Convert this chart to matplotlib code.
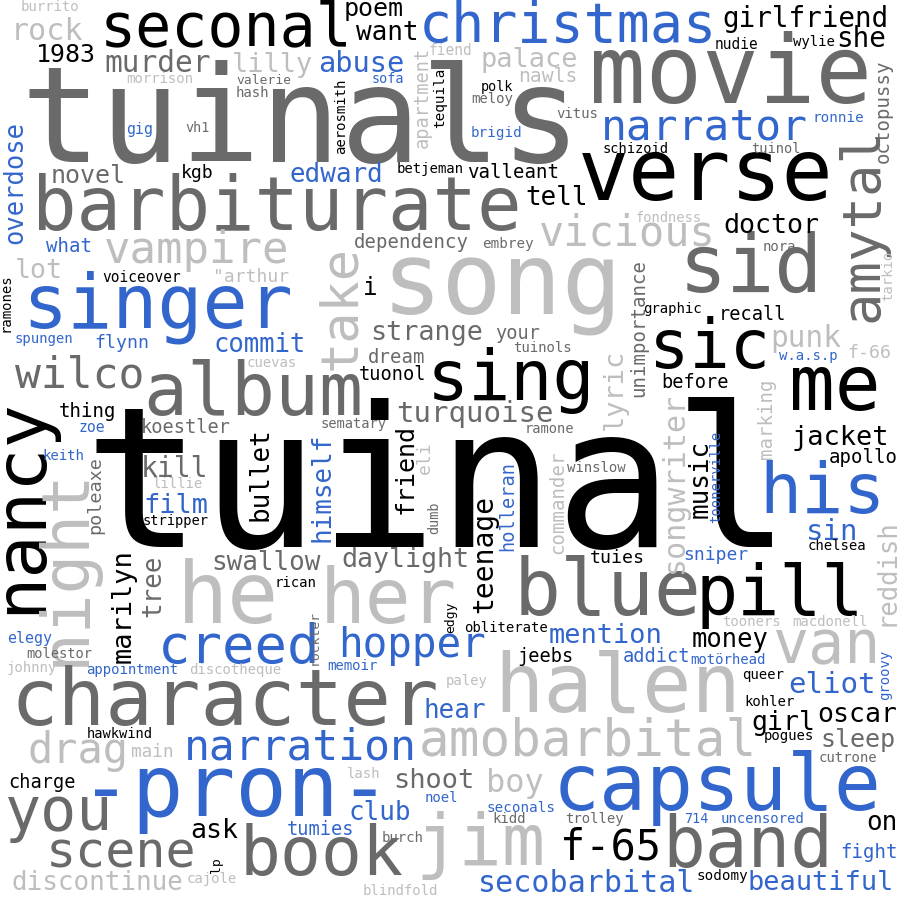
import matplotlib
matplotlib.use("Agg")
import matplotlib.pyplot as plt

# ---- data: words and their weights (rendered font size in px) ----
WORDS = [
    "tuinal", "tuinals", "barbiturate", "song", "singer", "movie", "verse", "seconal", "christmas", "sid",
    "amytal", "album", "sing", "sic", "me", "his", "nancy", "night", "he", "her",
    "blue", "pill", "van", "halen", "character", "creed", "hopper", "narration", "amobarbital", "-pron-",
    "capsule", "you", "scene", "book", "jim", "band", "f-65", "drag", "vicious", "vampire",
    "wilco", "narrator", "take", "secobarbital", "beautiful", "discontinue", "burrito", "rock", "1983", "murder",
    "lilly", "morrison", "valerie", "hash", "vh1", "gig", "overdose", "novel", "kgb", "what",
    "lot", '"arthur', "voiceover", "ramones", "poem", "want", "abuse", "fiend", "apartment", "palace",
    "nawls", "sofa", "aerosmith", "tequila", "polk", "meloy", "vitus", "brigid", "edward", "betjeman",
    "valleant", "tell", "dependency", "embrey", "i", "girlfriend", "nudie", "wylie", "she", "ronnie",
    "octopussy", "schizoid", "tuinol", "fondness", "doctor", "nora", "tarkio", "unimportance", "spungen", "flynn",
    "commit", "cuevas", "thing", "zoe", "koestler", "keith", "kill", "lillie", "film", "stripper",
    "poleaxe", "bullet", "marilyn", "tree", "swallow", "rican", "strange", "your", "tuinols", "dream",
    "tuonol", "turquoise", "sematary", "ramone", "himself", "friend", "eli", "dumb", "teenage", "holleran",
    "commander", "winslow", "daylight", "tuies", "graphic", "recall", "punk", "f-66", "w.a.s.p", "lyric",
    "before", "songwriter", "marking", "jacket", "music", "toonerville", "apollo", "sin", "chelsea", "reddish",
    "sniper", "elegy", "molestor", "johnny", "appointment", "discotheque", "hawkwind", "main", "charge", "ask",
    "cajole", "lp", "tumies", "rockter", "edgy", "obliterate", "mention", "jeebs", "memoir", "paley",
    "hear", "shoot", "lash", "boy", "noel", "club", "seconals", "kidd", "trolley", "burch",
    "blindfold", "tooners", "macdonell", "money", "addict", "motörhead", "eliot", "groovy", "queer", "kohler",
    "girl", "oscar", "pogues", "sleep", "cutrone", "714", "uncensored", "on", "fight", "sodomy",
]

WEIGHTS = [
    196, 133, 74, 100, 75, 94, 85, 60, 55, 80,
    54, 73, 70, 67, 76, 70, 72, 66, 85, 76,
    78, 70, 60, 82, 79, 54, 41, 43, 51, 86,
    78, 60, 50, 68, 72, 71, 42, 42, 42, 44,
    43, 43, 52, 30, 27, 26, 14, 30, 25, 29.5,
    27, 14, 13, 14, 13.5, 15, 25.5, 25, 18, 19,
    26.5, 18, 14.5, 14, 25, 26, 28.6, 14.5, 18.7, 27,
    19.6, 13.5, 14, 14.4, 13.5, 14, 14, 14.3, 26, 14,
    19, 26, 19, 14.3, 24, 27.6, 14.5, 14, 27.6, 14.3,
    19, 13.8, 13.7, 13.8, 26.6, 14, 14, 19, 14, 18.3,
    25.6, 14, 19, 14.7, 18.7, 14, 28, 14, 27, 13.8,
    18.5, 26, 27, 26, 26, 14, 26.8, 18.7, 14, 19,
    18.6, 29, 13.8, 13.7, 26, 25, 18, 13.5, 28, 18.7,
    19, 14, 26.6, 18.3, 14, 18.6, 29.5, 18.3, 14, 27,
    18.6, 30, 19, 27, 26, 14, 19, 29, 14, 25.6,
    18, 15, 13.8, 14, 14, 14, 13.8, 17.8, 18.6, 26.5,
    14, 13, 18.6, 13, 13, 14, 27, 18.6, 14, 14,
    26, 27, 14, 32, 14, 26, 14.2, 14, 14, 14,
    14, 14, 14, 25.5, 18.6, 14, 29, 14, 14, 14,
    26.5, 26.5, 14, 25, 14, 13.5, 14, 26, 19, 14.3,
]

# ---- styling / layout (kept separate from the data) ----
COLOR_CODES = (
    "KDDLBDKKBD" "DDKKKBKLLL" "DKLLDBBBLB" "BDDDLDKLLL" "DBLBBLLLKD"
    "LLDDDBBDKB" "LLKKKKBLLL" "LBKKKDDBBK" "KKDDKKKKKB" "DKDLKDLDBB"
    "BLKBDBDLBK" "DKKDDKDDDD" "KDDDBKLDKB" "LDDKKKLLBL" "KLLKKBKBKL"
    "BBDLBLKLKK" "LKBDKKBKBL" "BDLLBBBDDD" "LLLKBBBBKK" "KKKDDBBKBK"
)
ORIENT = (
    "hhhhhhhhhh" "vhhhhhvvhh" "hhhhhhhhhh" "hhhhhhhhhh" "hhvhhhhhhh"
    "hhhhhhvhhh" "hhhvhhhhvh" "hhvvhhhhhh" "hhhhhhhhhh" "vhhhhhvvhh"
    "hhhhhhhhhh" "vvvvhhhhhh" "hhhhvvvvvv" "vhhhhhhhhv" "hvvhvvhhhv"
    "hhhhhhhhhh" "hvhvvhhhhh" "hhhhhhhhhh" "hhhhhhhvhh" "hhhhhhhhhh"
)
POS_X = [
    438, 301, 277, 502, 158, 731, 706, 226, 568, 751,
    878, 253, 511, 710, 835, 823, 40, 84, 228, 388,
    608, 780, 826, 618, 225, 239, 412, 300, 588, 235,
    717, 59, 121, 322, 481, 748, 611, 78, 627, 197,
    80, 704, 355, 587, 821, 97, 50, 47, 66, 158,
    273, 160, 264, 252, 198, 140, 22, 88, 197, 69,
    39, 251, 142, 10, 374, 387, 361, 451, 428, 529,
    548, 388, 345, 444, 497, 492, 577, 497, 336, 430,
    513, 557, 411, 508, 370, 806, 736, 814, 861, 838,
    889, 636, 776, 669, 771, 779, 892, 644, 44, 122,
    260, 272, 88, 92, 186, 63, 175, 178, 176, 176,
    100, 267, 131, 160, 266, 295, 427, 518, 542, 397,
    392, 475, 354, 549, 330, 413, 430, 438, 492, 513,
    563, 596, 405, 617, 672, 752, 806, 869, 808, 622,
    695, 683, 772, 840, 708, 720, 863, 832, 837, 893,
    716, 30, 59, 32, 132, 235, 120, 152, 42, 214,
    212, 220, 320, 318, 454, 506, 606, 545, 352, 467,
    455, 434, 364, 515, 441, 380, 521, 509, 594, 403,
    400, 751, 830, 730, 657, 728, 832, 889, 763, 769,
    783, 857, 789, 858, 848, 696, 762, 882, 869, 722,
]
POS_Y = [
    547, 162, 230, 315, 327, 103, 200, 45, 42, 292,
    224, 415, 400, 368, 410, 513, 506, 567, 623, 623,
    615, 615, 663, 712, 725, 663, 657, 760, 755, 816,
    810, 830, 867, 875, 865, 867, 860, 763, 245, 263,
    388, 140, 307, 892, 890, 890, 11, 40, 62, 72,
    72, 83, 84, 97, 132, 134, 182, 183, 178, 252,
    278, 282, 282, 303, 16, 40, 72, 55, 97, 67,
    82, 83, 116, 98, 91, 103, 118, 137, 182, 173,
    178, 205, 248, 248, 295, 27, 49, 46, 47, 122,
    111, 153, 153, 222, 233, 251, 276, 328, 343, 348,
    352, 367, 417, 432, 433, 460, 477, 488, 513, 525,
    495, 474, 606, 586, 570, 587, 340, 339, 352, 363,
    380, 422, 428, 433, 487, 469, 458, 518, 554, 506,
    502, 472, 567, 563, 313, 320, 347, 358, 360, 389,
    388, 482, 419, 445, 479, 477, 463, 540, 550, 572,
    560, 643, 658, 672, 674, 674, 738, 757, 788, 838,
    883, 865, 835, 637, 617, 632, 643, 662, 670, 685,
    718, 788, 778, 792, 802, 820, 812, 823, 823, 842,
    895, 626, 626, 647, 662, 664, 693, 675, 679, 706,
    730, 722, 740, 747, 762, 823, 823, 830, 858, 880,
]

PALETTE = {"K": "#000000", "D": "#6a6a6a", "L": "#bebebe", "B": "#3366cc"}
FONT = "DejaVu Sans Mono"
W = H = 900
DPI = 100

fig = plt.figure(figsize=(W / DPI, H / DPI), dpi=DPI, facecolor="white")
ax = fig.add_axes([0, 0, 1, 1])
ax.set_xlim(0, W)
ax.set_ylim(H, 0)
ax.axis("off")

for word, size, c, o, x, y in zip(WORDS, WEIGHTS, COLOR_CODES, ORIENT, POS_X, POS_Y):
    ax.text(x, y, word, fontsize=size * 72 / DPI, color=PALETTE[c],
            family=FONT, ha="center", va="baseline",
            rotation=90 if o == "v" else 0, rotation_mode="anchor")

fig.savefig("out.png", dpi=DPI, facecolor="white")
